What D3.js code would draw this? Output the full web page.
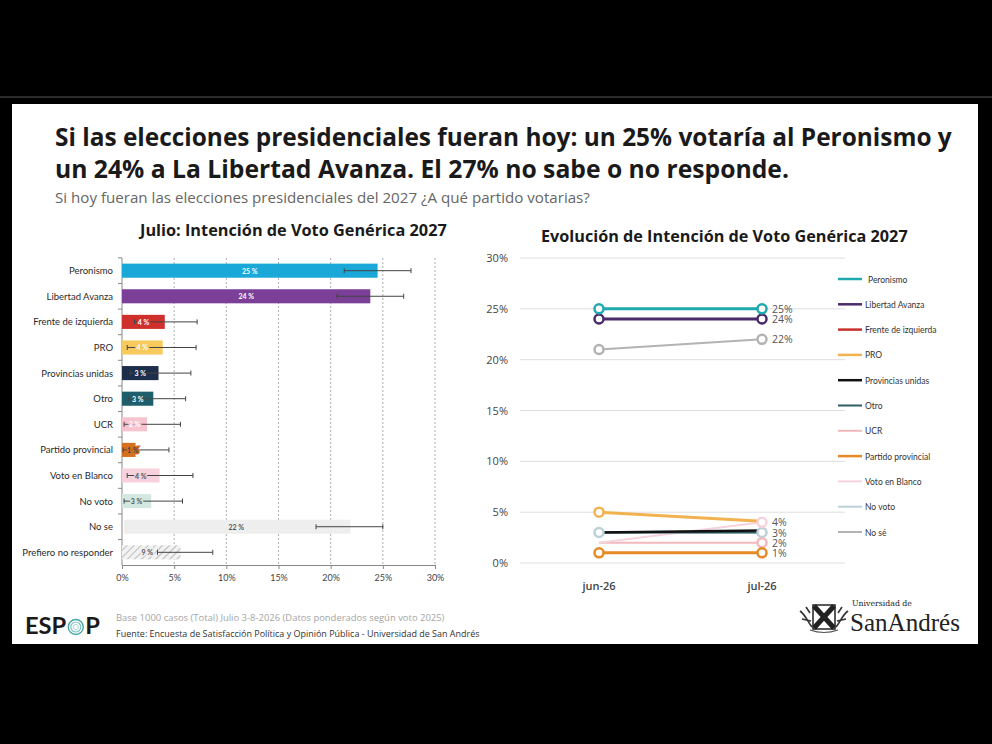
<!DOCTYPE html>
<html>
<head>
<meta charset="utf-8">
<script src="https://cdn.jsdelivr.net/npm/d3@7"></script>
<style>
  html, body { margin: 0; padding: 0; background: #000; }
  svg { display: block; }
  text { font-family: "Open Sans", "Noto Sans", sans-serif; }
</style>
</head>
<body>
<div id="chart"></div>
<script>
// ---- data ----
const barCategories = ['Peronismo', 'Libertad Avanza', 'Frente de izquierda', 'PRO', 'Provincias unidas', 'Otro',
  'UCR', 'Partido provincial', 'Voto en Blanco', 'No voto', 'No se', 'Prefiero no responder']
const barValues = [24.5, 23.8, 4.1, 3.9, 3.5, 3.0, 2.4, 1.3, 3.6, 2.8, 21.9, 5.6]
const barLabels = ['25 %', '24 %', '4 %', '4 %', '3 %', '3 %', '2 %', '1 %', '4 %', '3 %', '22 %', '9 %']
const errLow = [21.3, 20.6, 1.2, 0.5, 0.8, 0.6, 0.2, 0.1, 0.5, 0.2, 18.6, 3.4]
const errHigh = [27.7, 27.0, 7.2, 7.1, 6.6, 6.1, 5.6, 4.5, 6.8, 5.8, 25.0, 8.7]
const barTicks = [0, 5, 10, 15, 20, 25, 30]

const months = ['jun-26', 'jul-26']
const lineNames = ['No voto', 'UCR', 'Voto en Blanco', 'Otro', 'Provincias unidas', 'PRO', 'Partido provincial',
  'No sé', 'Libertad Avanza', 'Peronismo']
const lineValues = [[3, 3], [2, 2], [2, 4], [3, 3], [3, 3.2], [5, 4.1], [1, 1], [21, 22], [24, 24], [25, 25]]
const endLabels = [25, 24, 22, 4, 3, 2, 1]
const lineTicks = [0, 5, 10, 15, 20, 25, 30]
const legendNames = ['Peronismo', 'Libertad Avanza', 'Frente de izquierda', 'PRO', 'Provincias unidas', 'Otro',
  'UCR', 'Partido provincial', 'Voto en Blanco', 'No voto', 'No sé']

// ---- styles ----
const barColor = {
  'Peronismo': '#1aa8d8', 'Libertad Avanza': '#7b3f98', 'Frente de izquierda': '#d0302b', 'PRO': '#f8c95c',
  'Provincias unidas': '#1d2e4b', 'Otro': '#1e5f6b', 'UCR': '#f6c3cf', 'Partido provincial': '#d4701f',
  'Voto en Blanco': '#f7d2dc', 'No voto': '#d3e8e1', 'No se': '#eeeeee', 'Prefiero no responder': 'url(#hatch)'
}
const barLabelColor = {
  'Peronismo': '#fff', 'Libertad Avanza': '#fff', 'Frente de izquierda': '#fff', 'PRO': '#fff',
  'Provincias unidas': '#fff', 'Otro': '#fff', 'UCR': '#fff', 'Partido provincial': '#444',
  'Voto en Blanco': '#555', 'No voto': '#555', 'No se': '#555', 'Prefiero no responder': '#555'
}
const lineStyle = {
  'Peronismo': { c: '#1fa9ae', w: 3, m: [1, 1] },
  'Libertad Avanza': { c: '#4b2a6a', w: 3, m: [1, 1] },
  'Frente de izquierda': { c: '#c9302c', w: 3 },
  'PRO': { c: '#f2b24f', w: 3, m: [1, 0] },
  'Provincias unidas': { c: '#111111', w: 2.5 },
  'Otro': { c: '#2e5d63', w: 2 },
  'UCR': { c: '#f2b9bb', w: 2, m: [0, 1] },
  'Partido provincial': { c: '#e58a24', w: 3, m: [1, 1] },
  'Voto en Blanco': { c: '#f4d3dc', w: 2, m: [0, 1] },
  'No voto': { c: '#bcd0d8', w: 2, m: [1, 1] },
  'No sé': { c: '#b3b3b3', w: 2, m: [1, 1] }
}

const W = 992, H = 744
const svg = d3.select('#chart').append('svg')
  .attr('width', W).attr('height', H)
  .attr('viewBox', `0 0 ${W} ${H}`)
  .attr('xmlns', 'http://www.w3.org/2000/svg')

const defs = svg.append('defs')
const hatch = defs.append('pattern').attr('id', 'hatch')
  .attr('patternUnits', 'userSpaceOnUse').attr('width', 5).attr('height', 5)
  .attr('patternTransform', 'rotate(45)')
hatch.append('rect').attr('width', 5).attr('height', 5).attr('fill', '#f2f2f2')
hatch.append('line').attr('x1', 0).attr('y1', 0).attr('x2', 0).attr('y2', 5)
  .attr('stroke', '#bdbdbd').attr('stroke-width', 2)

svg.append('rect').attr('width', W).attr('height', H).attr('fill', '#000')
svg.append('rect').attr('x', 0).attr('y', 96).attr('width', W).attr('height', 2).attr('fill', '#2a2a2a')
svg.append('rect').attr('x', 12).attr('y', 104).attr('width', 966).attr('height', 540).attr('fill', '#fff')

// squeeze or stretch a text to a given width
function fit(sel, width) {
  const n = sel.node()
  const len = n.getComputedTextLength()
  const fs = parseFloat(sel.attr('font-size'))
  sel.attr('font-size', (fs * width / len).toFixed(2))
  return sel
}
function txt(x, y, s, size, opts = {}) {
  const t = svg.append('text').attr('x', x).attr('y', y).text(s)
    .attr('font-size', size)
    .attr('font-weight', opts.weight || 400)
    .attr('fill', opts.fill || '#222')
    .attr('text-anchor', opts.anchor || 'start')
  if (opts.family) t.style('font-family', opts.family)
  if (opts.width) fit(t, opts.width)
  return t
}

// ---- headings ----
txt(55, 146, 'Si las elecciones presidenciales fueran hoy: un 25% votaría al Peronismo y', 25, { weight: 700, fill: '#1a1a1a', width: 897 })
txt(55, 178, 'un 24% a La Libertad Avanza. El 27% no sabe o no responde.', 25, { weight: 700, fill: '#1a1a1a', width: 734 })
txt(55, 203, 'Si hoy fueran las elecciones presidenciales del 2027 ¿A qué partido votarias?', 13, { fill: '#666', width: 535 })
txt(140, 236, 'Julio: Intención de Voto Genérica 2027', 15, { weight: 700, fill: '#1a1a1a', width: 307 })
txt(541, 242, 'Evolución de Intención de Voto Genérica 2027', 15, { weight: 700, fill: '#1a1a1a', width: 367 })

// ---- bar chart ----
const bx = d3.scaleLinear().domain([0, 30]).range([122, 435])
const by = d3.scaleBand().domain(barCategories).range([258, 565]).paddingInner(0.45).paddingOuter(0.22)
const bars = barCategories.map((c, i) => ({ c, v: barValues[i], lab: barLabels[i], lo: errLow[i], hi: errHigh[i] }))

const gb = svg.append('g')
gb.selectAll('line.grid').data(barTicks.slice(1)).enter().append('line')
  .attr('x1', d => bx(d)).attr('x2', d => bx(d))
  .attr('y1', 258).attr('y2', 565)
  .attr('stroke', '#9a9a9a').attr('stroke-width', 0.8).attr('stroke-dasharray', '2,2')

const xAxis = gb.append('g').attr('transform', 'translate(0,565)')
  .call(d3.axisBottom(bx).tickValues(barTicks).tickFormat(d => d + '%').tickSize(4).tickPadding(6))
xAxis.select('.domain').attr('stroke', '#888')
xAxis.selectAll('.tick line').attr('stroke', '#888')
xAxis.selectAll('.tick text').attr('font-size', 9).attr('fill', '#444').style('font-family', 'Lato, sans-serif')

// left axis with ticks between categories
gb.append('line').attr('x1', 122).attr('x2', 122).attr('y1', 258).attr('y2', 565).attr('stroke', '#888')
gb.selectAll('line.sep').data(barCategories).enter().append('line')
  .attr('x1', 118).attr('x2', 122)
  .attr('y1', d => by(d) - by.step() * by.paddingInner() / 2)
  .attr('y2', d => by(d) - by.step() * by.paddingInner() / 2)
  .attr('stroke', '#888')

gb.selectAll('rect.bar').data(bars).enter().append('rect')
  .attr('x', d => bx(0) + (d.c === 'No se' ? 2 : 0))
  .attr('y', d => by(d.c))
  .attr('width', d => bx(d.v) - bx(0) - (d.c === 'No se' ? 2 : 0))
  .attr('height', by.bandwidth())
  .attr('fill', d => barColor[d.c])

const eb = gb.selectAll('g.err').data(bars).enter().append('g')
  .attr('transform', d => `translate(0,${by(d.c) + by.bandwidth() / 2})`)
eb.append('line').attr('x1', d => bx(d.lo)).attr('x2', d => bx(d.hi)).attr('stroke', '#444').attr('stroke-width', 1)
eb.append('line').attr('x1', d => bx(d.lo)).attr('x2', d => bx(d.lo)).attr('y1', -2.5).attr('y2', 2.5).attr('stroke', '#444')
eb.append('line').attr('x1', d => bx(d.hi)).attr('x2', d => bx(d.hi)).attr('y1', -2.5).attr('y2', 2.5).attr('stroke', '#444')

gb.selectAll('text.val').data(bars).enter().append('text')
  .attr('x', d => (bx(0) + bx(d.v)) / 2 + (d.c === 'Partido provincial' ? 4 : 0) + (d.c === 'Prefiero no responder' ? -4 : 0))
  .attr('y', d => by(d.c) + by.bandwidth() / 2 + 3)
  .attr('text-anchor', 'middle')
  .attr('font-size', 7).attr('font-weight', 700)
  .attr('fill', d => barLabelColor[d.c])
  .attr('stroke', d => d.c === 'Prefiero no responder' ? '#eeeeee' : barColor[d.c])
  .attr('stroke-width', 3).attr('paint-order', 'stroke')
  .style('font-family', 'Lato, sans-serif')
  .text(d => d.lab)

gb.selectAll('text.cat').data(barCategories).enter().append('text')
  .attr('x', 113).attr('y', d => by(d) + by.bandwidth() / 2 + 3.5)
  .attr('text-anchor', 'end').attr('font-size', 9.5).attr('fill', '#2a2a2a')
  .style('font-family', 'Lato, sans-serif')
  .text(d => d)

// ---- line chart ----
const lx = d3.scalePoint().domain(months).range([599, 762])
const ly = d3.scaleLinear().domain([0, 30]).range([563, 258])
const gl = svg.append('g')

gl.selectAll('line.hg').data(lineTicks).enter().append('line')
  .attr('x1', 520).attr('x2', 845)
  .attr('y1', d => ly(d)).attr('y2', d => ly(d))
  .attr('stroke', '#dedede').attr('stroke-width', 1)
gl.selectAll('text.yt').data(lineTicks).enter().append('text')
  .attr('x', 508).attr('y', d => ly(d) + 4)
  .attr('text-anchor', 'end').attr('font-size', 11).attr('fill', '#444')
  .text(d => d + '%')
gl.selectAll('text.xt').data(months).enter().append('text')
  .attr('x', d => lx(d)).attr('y', 590)
  .attr('text-anchor', 'middle').attr('font-size', 11).attr('font-weight', 600).attr('fill', '#444')
  .text(d => d)

const line = d3.line().x((d, i) => lx(months[i])).y(d => ly(d))
const series = lineNames.map((n, i) => ({ n, vals: lineValues[i], s: lineStyle[n] }))
gl.selectAll('path.ln').data(series).enter().append('path')
  .attr('d', d => line(d.vals))
  .attr('fill', 'none').attr('stroke', d => d.s.c).attr('stroke-width', d => d.s.w)

const marks = []
series.forEach(d => (d.s.m || []).forEach((on, i) => { if (on) marks.push({ x: months[i], v: d.vals[i], c: d.s.c }) }))
gl.selectAll('circle.mk').data(marks).enter().append('circle')
  .attr('cx', d => lx(d.x)).attr('cy', d => ly(d.v)).attr('r', 4.5)
  .attr('fill', '#fff').attr('stroke', d => d.c).attr('stroke-width', 2.5)

gl.selectAll('text.end').data(endLabels).enter().append('text')
  .attr('x', 772).attr('y', d => ly(d) + 4)
  .attr('font-size', 10.5).attr('fill', '#555')
  .text(d => d + '%')

// legend
const lg = gl.selectAll('g.lg').data(legendNames).enter().append('g')
  .attr('transform', (d, i) => `translate(838,${279 + i * 25.3})`)
lg.append('line').attr('x1', 0).attr('x2', 24)
  .attr('stroke', d => lineStyle[d].c).attr('stroke-width', d => Math.min(lineStyle[d].w, 2.5))
lg.append('text').attr('x', d => d === 'Peronismo' ? 30 : 27).attr('y', 3.5)
  .attr('font-size', 8.5).attr('fill', '#333')
  .style('font-family', 'Lato, sans-serif')
  .text(d => d)

// ---- footer ----
const espop = svg.append('text').attr('x', 25).attr('y', 634)
  .attr('font-size', 19).attr('font-weight', 700).attr('fill', '#1a1a1a')
  .style('font-family', 'Lato, sans-serif')
espop.append('tspan').text('ESP')
espop.append('tspan').attr('fill', 'none').text('O')
espop.append('tspan').text('P')
fit(espop, 75)
const oBox = espop.node().getExtentOfChar(3)
const ocx = oBox.x + oBox.width / 2, ocy = 627
svg.append('circle').attr('cx', ocx).attr('cy', ocy).attr('r', 7.5).attr('fill', 'none').attr('stroke', '#4aa6a8').attr('stroke-width', 1.4)
svg.append('circle').attr('cx', ocx).attr('cy', ocy).attr('r', 5).attr('fill', 'none').attr('stroke', '#7cc4c3').attr('stroke-width', 1.2)
svg.append('circle').attr('cx', ocx).attr('cy', ocy).attr('r', 2.6).attr('fill', 'none').attr('stroke', '#a8d8d6').attr('stroke-width', 1)

txt(116, 621, 'Base 1000 casos (Total) Julio 3-8-2026 (Datos ponderados según voto 2025)', 9, { fill: '#a5a5a5', width: 329 })
txt(116, 637, 'Fuente: Encuesta de Satisfacción Política y Opinión Pública - Universidad de San Andrés', 8.5, { fill: '#333', width: 364 })

// San Andrés crest (simplified)
const crest = svg.append('g').attr('transform', 'translate(824,617)')
crest.append('rect').attr('x', -11).attr('y', -12).attr('width', 22).attr('height', 24).attr('fill', '#fff').attr('stroke', '#222').attr('stroke-width', 1.5)
crest.append('path').attr('d', 'M-10,-11 L10,11 M10,-11 L-10,11').attr('stroke', '#222').attr('stroke-width', 5)
crest.append('path').attr('d', 'M-24,-6 C-18,-2 -16,6 -12,10 M24,-6 C18,-2 16,6 12,10 M-22,2 L-13,4 M22,2 L13,4 M-18,-10 L-14,-4 M18,-10 L14,-4')
  .attr('fill', 'none').attr('stroke', '#333').attr('stroke-width', 1.6)
crest.append('path').attr('d', 'M-14,13 Q0,18 14,13').attr('fill', 'none').attr('stroke', '#555').attr('stroke-width', 1.2)

txt(852, 606, 'Universidad de', 8, { fill: '#222', family: '"DejaVu Serif", "Liberation Serif", serif', width: 60 })
txt(850, 631, 'SanAndrés', 22, { fill: '#222', family: '"Liberation Serif", "DejaVu Serif", serif', width: 110 })
</script>
</body>
</html>
